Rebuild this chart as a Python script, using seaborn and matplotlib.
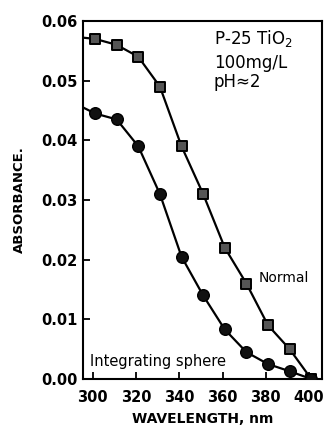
import pandas as pd
import seaborn as sns
import matplotlib
matplotlib.use('Agg')
import matplotlib.pyplot as plt

# wavelengths (nm) of the measured points
wavelength = [301, 311, 321, 331, 341, 351, 361, 371, 381, 391, 401]
normal = [0.057, 0.056, 0.054, 0.049, 0.039, 0.031, 0.022, 0.016, 0.009, 0.005, 0.0]
sphere = [0.0445, 0.0435, 0.039, 0.031, 0.0205, 0.014, 0.0083, 0.0045, 0.0025, 0.0013, 0.0]
# curves run on to the left frame
edge_wl = 295.5
edge_normal = 0.0572
edge_sphere = 0.0455

df = pd.concat([
    pd.DataFrame({'wl': wavelength, 'abs': normal, 'series': 'Normal'}),
    pd.DataFrame({'wl': wavelength, 'abs': sphere, 'series': 'Integrating sphere'}),
])
lines = pd.concat([
    pd.DataFrame({'wl': [edge_wl] + wavelength, 'abs': [edge_normal] + normal, 'series': 'Normal'}),
    pd.DataFrame({'wl': [edge_wl] + wavelength, 'abs': [edge_sphere] + sphere, 'series': 'Integrating sphere'}),
])

sns.set_style('ticks')
plt.rcParams['font.family'] = ['DejaVu Sans']
plt.rcParams.update({'text.color': 'black', 'axes.labelcolor': 'black',
                     'xtick.color': 'black', 'ytick.color': 'black',
                     'axes.edgecolor': 'black'})

fig = plt.figure(figsize=(3.26, 4.28), dpi=100)
ax = fig.add_axes([0.255, 0.1145, 0.733, 0.8365])

sns.lineplot(data=lines, x='wl', y='abs', units='series', estimator=None,
             color='black', lw=1.6, ax=ax, legend=False, sort=False)
sns.scatterplot(data=df[df.series == 'Normal'], x='wl', y='abs', marker='s', s=55,
                color='#555555', edgecolor='black', linewidth=1.4, ax=ax, zorder=3)
sns.scatterplot(data=df[df.series == 'Integrating sphere'], x='wl', y='abs', marker='o', s=70,
                color='#111111', edgecolor='black', linewidth=1.0, ax=ax, zorder=3)

ax.set_xlim(295.5, 406)
ax.set_ylim(0, 0.06)
ax.set_xticks([300, 320, 340, 360, 380, 400])
ax.set_yticks([0.0, 0.01, 0.02, 0.03, 0.04, 0.05, 0.06])
ax.set_yticklabels(['0.00', '0.01', '0.02', '0.03', '0.04', '0.05', '0.06'])
ax.tick_params(direction='in', length=5, width=1.3, labelsize=10.5)
ax.tick_params(axis='x', pad=8)
ax.tick_params(axis='y', pad=4)
for lab in ax.get_xticklabels() + ax.get_yticklabels():
    lab.set_fontweight('bold')
for sp in ax.spines.values():
    sp.set_linewidth(1.5)

ax.set_xlabel('WAVELENGTH, nm', fontsize=10, fontweight='bold', labelpad=5)
ax.set_ylabel('ABSORBANCE.', fontsize=9.5, fontweight='bold', labelpad=11)

ax.text(356, 0.057, 'P-25 TiO$_2$', fontsize=12, va='center')
ax.text(356, 0.053, '100mg/L', fontsize=12, va='center')
ax.text(356, 0.0497, 'pH≈2', fontsize=12, va='center')
ax.text(376.5, 0.0169, 'Normal', fontsize=10, va='center')
ax.text(298.5, 0.0029, 'Integrating sphere', fontsize=10.5, va='center')

fig.savefig('out.png', dpi=100)
